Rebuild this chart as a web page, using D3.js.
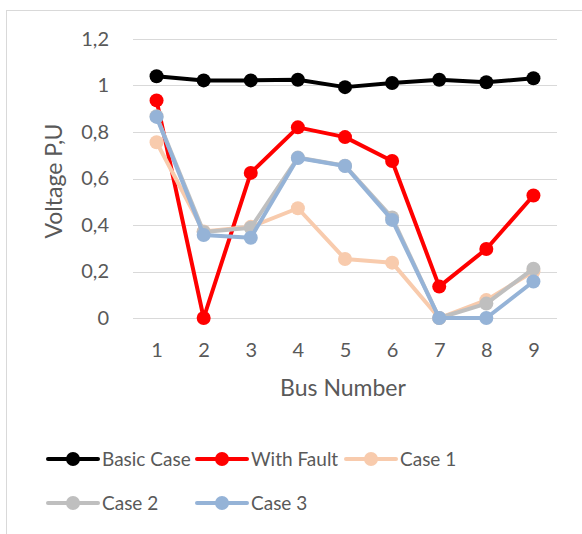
<!DOCTYPE html>
<html><head><meta charset="utf-8">
<script src="https://cdn.jsdelivr.net/npm/d3@7"></script>
<style>body{margin:0;background:#fff}svg{display:block}text{font-family:Lato,"Open Sans",sans-serif}</style>
</head><body><svg id="c" width="582" height="534"></svg>
<script>
const buses = ["1","2","3","4","5","6","7","8","9"];
const yTicks = [0,0.2,0.4,0.6,0.8,1,1.2];
const basicCase = [1.04,1.022,1.022,1.025,0.993,1.011,1.025,1.014,1.031];
const withFault = [0.936,0,0.624,0.82,0.778,0.675,0.135,0.297,0.527];
const case1 = [0.756,0.372,0.392,0.472,0.254,0.238,0,0.077,0.2];
const case2 = [0.868,0.37,0.388,0.69,0.655,0.432,0,0.062,0.212];
const case3 = [0.865,0.357,0.345,0.688,0.654,0.422,0,0,0.157];
const seriesNames = ["Basic Case","With Fault","Case 1","Case 2","Case 3"];
const colors = ["#000000","#ff0000","#f8cbad","#bfbfbf","#95b3d7"];
const series = [basicCase,withFault,case1,case2,case3];

const svg = d3.select("#c");
svg.append("rect").attr("x",6.5).attr("y",10.5).attr("width",600).attr("height",600)
  .attr("fill","none").attr("stroke","#d9d9d9").attr("stroke-width",1);

const x = d3.scalePoint().domain(buses).range([133,557]).padding(0.5);
const y = d3.scaleLinear().domain([0,1.2]).range([318,39]);

const grid = svg.append("g");
grid.selectAll("line").data(yTicks).join("line")
  .attr("x1",133).attr("x2",557).attr("y1",d=>Math.round(y(d))+0.5).attr("y2",d=>Math.round(y(d))+0.5)
  .attr("stroke","#d9d9d9").attr("stroke-width",1);

const fmt = d => String(d).replace(".",",");
const yAxis = svg.append("g").attr("transform","translate(133,0)")
  .call(d3.axisLeft(y).tickValues(yTicks).tickFormat(fmt).tickSize(0).tickPadding(24));
yAxis.select(".domain").remove();
yAxis.selectAll("text").attr("font-size",20).attr("fill","#595959").attr("font-family","Lato");

const xAxis = svg.append("g").attr("transform","translate(0,318)")
  .call(d3.axisBottom(x).tickSize(0).tickPadding(25));
xAxis.select(".domain").remove();
xAxis.selectAll("text").attr("font-size",20).attr("fill","#595959").attr("font-family","Lato");

svg.append("text").attr("x",343).attr("y",396).attr("text-anchor","middle")
  .attr("font-size",23).attr("fill","#595959").text("Bus Number");
svg.append("text").attr("transform","translate(62,181) rotate(-90)").attr("text-anchor","middle")
  .attr("font-size",23).attr("fill","#595959").text("Voltage P,U");

const line = d3.line().x((d,i)=>x(buses[i])).y(d=>y(d));
series.forEach((s,k)=>{
  const g = svg.append("g");
  g.append("path").attr("d",line(s)).attr("fill","none").attr("stroke",colors[k])
    .attr("stroke-width",4).attr("stroke-linejoin","round");
  g.selectAll("circle").data(s).join("circle").attr("cx",(d,i)=>x(buses[i])).attr("cy",d=>y(d))
    .attr("r",7).attr("fill",colors[k]);
});

const legPos = [[48,459],[197,459],[346,459],[48,503],[197,503]];
seriesNames.forEach((n,k)=>{
  const [lx,ly] = legPos[k];
  const g = svg.append("g");
  g.append("line").attr("x1",lx).attr("x2",lx+50).attr("y1",ly).attr("y2",ly)
    .attr("stroke",colors[k]).attr("stroke-width",4).attr("stroke-linecap","round");
  g.append("circle").attr("cx",lx+25).attr("cy",ly).attr("r",7).attr("fill",colors[k]);
  g.append("text").attr("x",lx+54).attr("y",ly).attr("dy","0.35em").attr("font-size",19)
    .attr("fill","#595959").text(n);
});
</script></body></html>
